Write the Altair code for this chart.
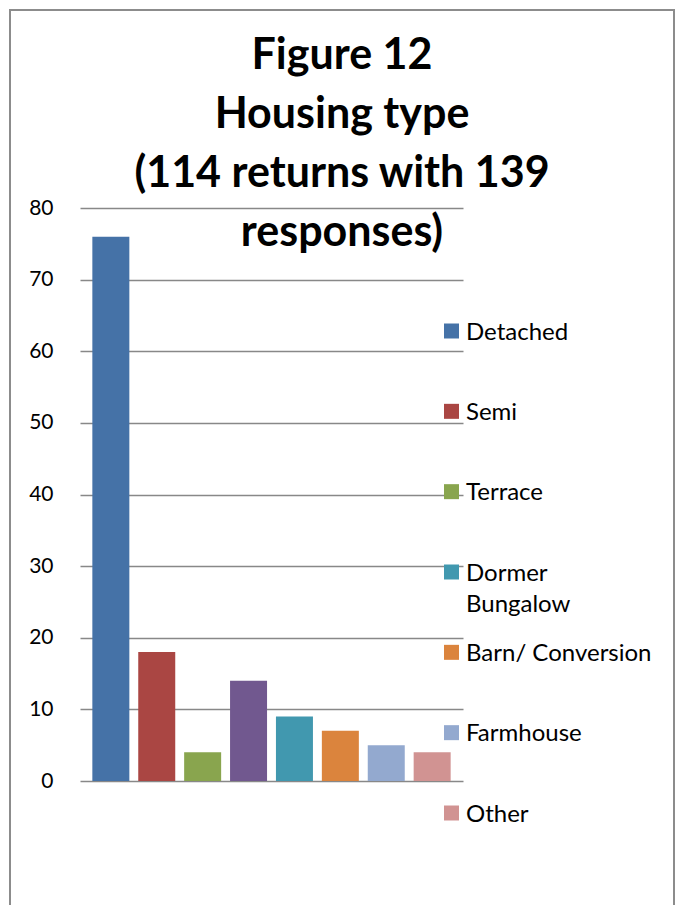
import altair as alt
import pandas as pd

# ---- data ----
categories = ["Detached", "Semi", "Terrace", "Bungalow", "Dormer Bungalow",
              "Barn/ Conversion", "Farmhouse", "Other"]
counts = [76, 18, 4, 14, 9, 7, 5, 4]
colors = ["#4572A7", "#AA4643", "#89A54E", "#71588F", "#4198AF",
          "#DB843D", "#93A9CF", "#D19392"]
legend_items = ["Detached", "Semi", "Terrace", "Dormer Bungalow",
                "Barn/ Conversion", "Farmhouse", "Other"]
legend_labels = ["Detached", "Semi", "Terrace", "Dormer\nBungalow",
                 "Barn/ Conversion", "Farmhouse", "Other"]
y_ticks = [0, 10, 20, 30, 40, 50, 60, 70, 80]
title_lines = ["Figure 12", "Housing type", "(114 returns with 139", "responses)"]

bars_df = pd.DataFrame({"category": categories, "count": counts})
legend_df = pd.DataFrame({"item": legend_items, "label": legend_labels,
                          "order": list(range(len(legend_items)))})

FONT = "Lato"
color_scale = alt.Scale(domain=categories, range=colors)

frame = alt.Chart(pd.DataFrame({"k": [0]})).mark_rect(
    fillOpacity=0, stroke="#8c8c8c", strokeWidth=2
).encode(
    x=alt.value(-70), x2=alt.value(594), y=alt.value(-198), y2=alt.value(720)
)

bars = alt.Chart(bars_df).mark_bar().encode(
    x=alt.X("category:N", sort=categories, axis=None,
            scale=alt.Scale(paddingInner=0.194, paddingOuter=0.269)),
    y=alt.Y("count:Q", scale=alt.Scale(domain=[0, 80], nice=False),
            axis=alt.Axis(values=y_ticks, grid=True, gridColor="#888888",
                          gridWidth=1.6, domain=False, ticks=False,
                          labelFont=FONT, labelFontSize=21, labelColor="black",
                          labelPadding=27, title=None)),
    color=alt.Color("category:N", scale=color_scale, legend=None),
)

leg_y = alt.Y("order:O", axis=None,
              scale=alt.Scale(type="point", range=[123, 605], padding=0))

squares = alt.Chart(legend_df).mark_square(size=225, opacity=1).encode(
    x=alt.value(371.5),
    y=leg_y,
    color=alt.Color("item:N", scale=color_scale, legend=None),
)

texts = alt.Chart(legend_df).mark_text(
    align="left", baseline="alphabetic", dy=8.5, font=FONT, fontSize=24,
    lineBreak="\n", lineHeight=31, color="black"
).encode(
    x=alt.value(386),
    y=leg_y,
    text="label:N",
)

chart = alt.layer(frame, bars, squares, texts).resolve_scale(
    y="independent", x="independent"
).properties(
    width=383,
    height=573,
    autosize=alt.AutoSizeParams(type="none"),
    padding={"left": 72, "top": 200, "right": 212, "bottom": 124},
    title=alt.Title(title_lines, font=FONT, fontSize=43, fontWeight="bold",
                    color="black", lineHeight=59, anchor="middle",
                    frame="group", dx=70.5, offset=-246),
).configure_view(stroke=None)

chart.save("out.html", embed_options={"renderer": "svg", "actions": False})
